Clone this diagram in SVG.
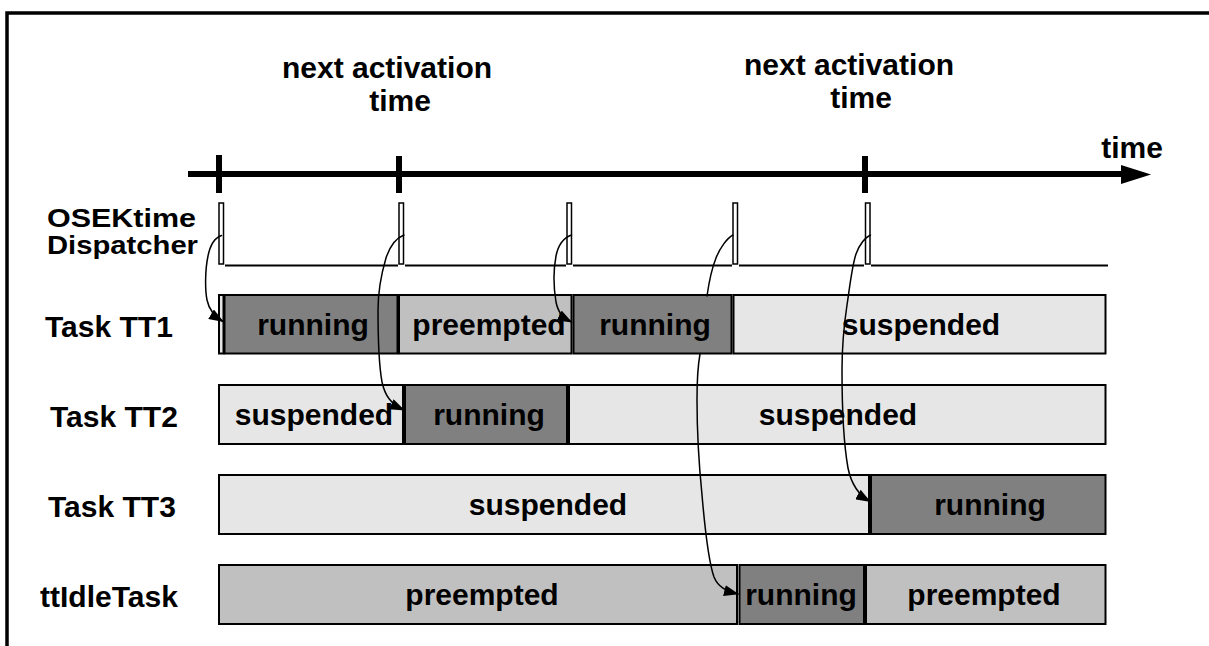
<svg xmlns="http://www.w3.org/2000/svg" width="1209" height="646" viewBox="0 0 1209 646">
<defs>
<style>
.t{font-family:"Liberation Sans",Arial,Helvetica,sans-serif;font-weight:bold;font-size:30px;fill:#000}
.d{font-size:25px}
.c{text-anchor:middle}
.run{fill:#808080;stroke:#000;stroke-width:2}
.pre{fill:#c0c0c0;stroke:#000;stroke-width:2}
.sus{fill:#e6e6e6;stroke:#000;stroke-width:2}
.pulse{fill:#fff;stroke:#000;stroke-width:1.5}
.base{stroke:#000;stroke-width:2;fill:none}
.con{fill:none;stroke:#000;stroke-width:1.5;stroke-linejoin:round;stroke-linecap:round}
</style>
<marker id="ah" markerWidth="15" markerHeight="11" refX="14" refY="5.5" orient="auto" markerUnits="userSpaceOnUse">
<path d="M0,0 L15,5.5 L0,11 z" fill="#000"/>
</marker>
</defs>
<rect x="7" y="13" width="1300" height="700" fill="none" stroke="#000" stroke-width="3.5"/>

<g id="timeaxis">
<line x1="188" y1="174" x2="1123" y2="174" stroke="#000" stroke-width="6"/>
<polygon points="1121,165 1151,174.5 1121,184" fill="#000"/>
<line x1="219" y1="155" x2="219" y2="193" stroke="#000" stroke-width="6"/>
<line x1="399" y1="156" x2="399" y2="193" stroke="#000" stroke-width="6"/>
<line x1="865" y1="156" x2="865" y2="193" stroke="#000" stroke-width="6"/>
<text class="t" x="1132" y="158" text-anchor="middle">time</text>
</g>

<g id="label-next1">
<text class="t c" x="387" y="78">next activation</text>
<text class="t c" x="400" y="111">time</text>
</g>
<g id="label-next2">
<text class="t c" x="849" y="75">next activation</text>
<text class="t c" x="861" y="108">time</text>
</g>

<g id="dispatcher">
<text class="t d" x="47" y="227" textLength="149" lengthAdjust="spacingAndGlyphs">OSEKtime</text>
<text class="t d" x="47" y="254" textLength="151" lengthAdjust="spacingAndGlyphs">Dispatcher</text>
<rect class="pulse" x="219" y="203" width="4.5" height="61"/>
<rect class="pulse" x="399" y="203" width="4.5" height="61"/>
<rect class="pulse" x="567" y="203" width="4.5" height="61"/>
<rect class="pulse" x="733" y="203" width="4.5" height="61"/>
<rect class="pulse" x="865.5" y="203" width="4.5" height="61"/>
<path class="base" d="M225,265.5 H398 M405,265.5 H566 M573,265.5 H732 M739,265.5 H864 M871,265.5 H1108"/>
</g>

<g id="tt1">
<text class="t" x="45" y="337">Task TT1</text>
<g id="tt1-start"><rect class="sus" x="219" y="295" width="4.5" height="58.5"/></g>
<g id="tt1-running1"><rect class="run" x="224.5" y="295" width="173" height="58.5"/><text class="t c" x="313" y="335">running</text></g>
<g id="tt1-preempted"><rect class="pre" x="399" y="295" width="172.5" height="58.5"/><text class="t c" x="489" y="335">preempted</text></g>
<g id="tt1-running2"><rect class="run" x="573.5" y="295" width="158" height="58.5"/><text class="t c" x="655" y="335">running</text></g>
<g id="tt1-suspended"><rect class="sus" x="733.5" y="295" width="372" height="58.5"/><text class="t c" x="921" y="335">suspended</text></g>
</g>

<g id="tt2">
<text class="t" x="50" y="427">Task TT2</text>
<g id="tt2-suspended1"><rect class="sus" x="219" y="385" width="184" height="59"/><text class="t c" x="314" y="425">suspended</text></g>
<g id="tt2-running"><rect class="run" x="405" y="385" width="162" height="59"/><text class="t c" x="489" y="425">running</text></g>
<g id="tt2-suspended2"><rect class="sus" x="569" y="385" width="536.5" height="59"/><text class="t c" x="838" y="425">suspended</text></g>
</g>

<g id="tt3">
<text class="t" x="48" y="517">Task TT3</text>
<g id="tt3-suspended"><rect class="sus" x="219" y="475" width="650" height="59"/><text class="t c" x="548" y="515">suspended</text></g>
<g id="tt3-running"><rect class="run" x="871" y="475" width="234.5" height="59"/><text class="t c" x="990" y="515">running</text></g>
</g>

<g id="idle">
<text class="t" x="40" y="607">ttIdleTask</text>
<g id="idle-preempted1"><rect class="pre" x="219" y="565" width="518" height="59"/><text class="t c" x="482" y="605">preempted</text></g>
<g id="idle-running"><rect class="run" x="739.5" y="565" width="124.5" height="59"/><text class="t c" x="801" y="605">running</text></g>
<g id="idle-preempted2"><rect class="pre" x="866" y="565" width="239.5" height="59"/><text class="t c" x="984" y="605">preempted</text></g>
</g>

<g id="connectors">
<path class="con" marker-end="url(#ah)" d="M221.5,235.5 C214,238 210,246 208,256 C205,270 205,290 207,300 C209,310 214,316 223,321.5"/>
<path class="con" marker-end="url(#ah)" d="M404,235 C396,238 390,246 386,258 C381,275 378,290 378,310 C378,335 378,360 382,382 C385,396 391,404 404,410"/>
<path class="con" marker-end="url(#ah)" d="M571.5,235 C563,238 558,246 556,256 C553,272 554,290 556,302 C558,312 562,317 571.5,322"/>
<path class="con" d="M733,235 C727,238 720,248 716,258 C712,268 709,282 707,296"/>
<path class="con" marker-end="url(#ah)" d="M700,354 C698,365 697,380 697,400 C697,430 699,465 702,495 C705,530 708,560 714,577 C718,587 726,591 738,594"/>
<path class="con" marker-end="url(#ah)" d="M870.5,235 C864,238 859,246 856,254 C852,266 850,285 847,305 C844,325 842,345 842,370 C842,400 843,440 848,468 C851,483 857,494 870,501.5"/>
</g>
</svg>
